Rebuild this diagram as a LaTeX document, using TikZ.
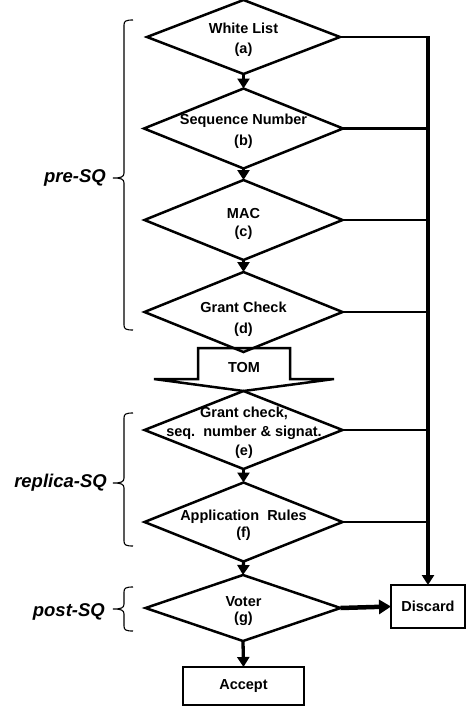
\documentclass[tikz,border=0pt]{standalone}
\usepackage{fontspec}
\setmainfont{Liberation Sans}
\usetikzlibrary{shapes.geometric,arrows.meta}
\begin{document}
\begin{tikzpicture}[x=1pt,y=-1pt,
  dia/.style={draw,diamond,line width=2.5pt,inner sep=0pt,outer sep=0pt,minimum width=198pt,minimum height=80pt},
  lbl/.style={font=\fontsize{14.5}{#1}\selectfont\bfseries,align=center,inner sep=0pt},
  lbl/.default=20,
  box/.style={draw,line width=2.5pt,inner sep=0pt,outer sep=0pt,font=\fontsize{14.5}{16}\selectfont\bfseries},
  arr/.style={line width=3.3pt,-{Triangle[width=12pt,length=10pt]}},
  bigarr/.style={line width=4.5pt,-{Triangle[width=14pt,length=12pt]}},
  branch/.style={line width=2.2pt},
  phase/.style={font=\fontsize{18.5}{20}\selectfont\bfseries\itshape,anchor=east,inner sep=0pt},
  bracepath/.style={line width=1.1pt}]
\useasboundingbox (0,0) rectangle (466,712);

% TOM block arrow (drawn first)
\draw[line width=2.5pt,line join=miter] (198,348) -- (290,348) -- (290,379) -- (334,379) -- (243.5,391) -- (154,379) -- (198,379) -- cycle;
\node[lbl] (tom) at (244,368) {TOM};

% diamonds
\node[dia,minimum width=193pt,minimum height=74pt] (a) at (243.5,37) {};
\node[dia,minimum width=199pt] (b) at (243.5,128.5) {};
\node[dia] (c) at (243.5,220) {};
\node[dia] (d) at (243.5,312) {};
\node[dia,minimum height=78pt] (e) at (243.5,430) {};
\node[dia,minimum height=79pt] (f) at (243.5,522) {};
\node[dia,minimum width=195pt,minimum height=66pt] (g) at (243,608) {};

% diamond texts
\node[lbl=20] (ta) at (243.5,39.5) {White List\\(a)};
\node[lbl=21] (tb) at (243.5,131) {Sequence Number\\(b)};
\node[lbl=18] (tc) at (243.5,223.5) {MAC\\(c)};
\node[lbl=21] (td) at (243.5,319) {Grant Check\\(d)};
\node[lbl=19] (te) at (244,432.5) {Grant check,\\seq.\ \ number \& signat.\\(e)};
\node[lbl=17] (tf) at (243.5,525) {Application\ \ Rules\\(f)};
\node[lbl=16] (tg) at (243.5,611.5) {Voter\\(g)};

% terminal boxes
\node[box,minimum width=74pt,minimum height=43pt] (discard) at (428,606.5) {Discard};
\node[box,minimum width=121pt,minimum height=38pt] (accept) at (243.5,686) {Accept};

% main flow
\draw[arr] (a.south) -- (b.north);
\draw[arr] (b.south) -- (c.north);
\draw[arr] (c.south) -- (d.north);
\draw[arr] (e.south) -- (f.north);
\draw[arr] (f.south) -- (g.north);
\draw[arr] (g.south) -- (accept.north);
\draw[bigarr] (g.east) -- (discard.west);

% rejection rail
\coordinate (railtop) at (428,37);
\draw[branch] (a.east) -- (railtop);
\draw[branch] (b.east) -- (b.east -| railtop);
\draw[branch] (c.east) -- (c.east -| railtop);
\draw[branch] (d.east) -- (d.east -| railtop);
\draw[branch] (e.east) -- (e.east -| railtop);
\draw[branch] (f.east) -- (f.east -| railtop);
\draw[line width=3.8pt,-{Triangle[width=12pt,length=10pt]}] ([yshift=1pt]railtop) -- (discard.north);

% braces
\draw[bracepath] (133,20) .. controls (126,20) and (124,21) .. (124,25) -- (124,173)
  .. controls (124,177) and (121,178) .. (113,178)
  .. controls (121,178) and (124,179) .. (124,183) -- (124,325)
  .. controls (124,329) and (126,330) .. (133,330);
\draw[bracepath] (133,413) .. controls (126,413) and (124,414) .. (124,418) -- (124,478)
  .. controls (124,482) and (121,483) .. (113,483)
  .. controls (121,483) and (124,484) .. (124,488) -- (124,541)
  .. controls (124,545) and (126,546) .. (133,546);
\draw[bracepath] (133,587) .. controls (126,587) and (124,588) .. (124,592) -- (124,604)
  .. controls (124,608) and (121,609) .. (113,609)
  .. controls (121,609) and (124,610) .. (124,614) -- (124,626)
  .. controls (124,630) and (126,631) .. (133,631);

% phase labels
\node[phase] (pre) at (106,178) {pre-SQ};
\node[phase] (replica) at (107,483) {replica-SQ};
\node[phase] (post) at (105,612) {post-SQ};
\end{tikzpicture}
\end{document}
